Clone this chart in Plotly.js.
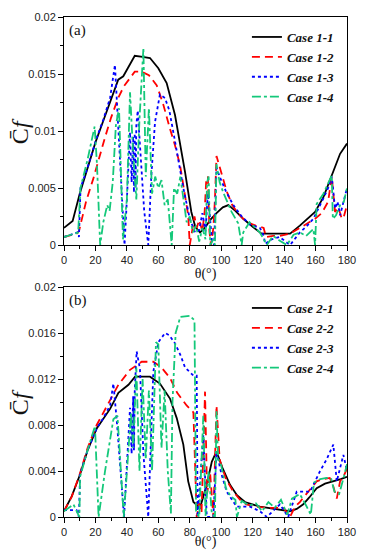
<!DOCTYPE html>
<html>
<head>
<meta charset="utf-8">
<script src="https://cdn.plot.ly/plotly-3.0.1.min.js"></script>
<style>html,body{margin:0;padding:0;background:#fff;}#chart{width:368px;height:550px;}</style>
</head>
<body>
<div id="chart"></div>
<script>
// ---- Panel (a) ----
var th11 = [0, 5.5, 10, 15, 20, 25, 30, 34.5, 37.7, 41, 45, 50, 54.7, 60, 65.3, 70.6, 74, 77, 81, 83.5, 86.5, 89.6, 93, 97, 101, 104.5, 109, 114, 120, 125.7, 135, 143.8, 150, 155, 159.7, 165, 170.3, 175.6, 180];
var cf11 = [0.0015, 0.0021, 0.0045, 0.0068, 0.009, 0.0109, 0.0128, 0.0145, 0.0148, 0.0156, 0.0166, 0.0165, 0.0164, 0.0155, 0.0142, 0.0114, 0.0088, 0.0064, 0.0029, 0.0016, 0.0011, 0.0015, 0.0022, 0.0028, 0.0033, 0.0035, 0.003, 0.0023, 0.0016, 0.001, 0.001, 0.001, 0.0017, 0.0023, 0.0029, 0.0042, 0.0061, 0.008, 0.0089];

var th12 = [0, 5, 8, 9.5, 10.5, 14, 18.6, 22, 26, 30, 34.5, 38, 42, 45, 49.4, 54, 59, 63, 67.4, 70.5, 73.8, 76.5, 79, 80, 81.5, 83, 84.4, 86, 88, 89.5, 90.5, 91.5, 92.5, 93.5, 95, 96, 97, 100, 103.5, 107, 110, 114, 118.3, 122, 125.7, 127, 128.5, 133, 137, 143.8, 150, 155, 159.7, 164, 168, 170.3, 172.4, 174.5, 176.7, 178, 180];
var cf12 = [0.0007, 0.0009, 0.001, 0.0012, 0.0018, 0.0038, 0.0058, 0.0075, 0.0094, 0.0112, 0.0129, 0.0139, 0.0146, 0.0152, 0.0152, 0.0149, 0.014, 0.0124, 0.0102, 0.0088, 0.007, 0.0048, 0.0026, 0.0, 0.0012, 0.0025, 0.0015, 0.0022, 0.0012, 0.003, 0.0058, 0.006, 0.0012, 0.0, 0.0015, 0.004, 0.0078, 0.0063, 0.0047, 0.0035, 0.0029, 0.0023, 0.0019, 0.0017, 0.0016, 0.0015, 0.0007, 0.0008, 0.0008, 0.001, 0.0015, 0.0019, 0.0023, 0.0028, 0.0038, 0.006, 0.0029, 0.0033, 0.0023, 0.0025, 0.0035];

var th13 = [0, 5, 8.5, 9.5, 10.5, 15, 20.8, 25, 29.3, 32.4, 37.5, 38.5, 40, 42, 43, 44, 44.5, 45, 45.5, 46, 46.9, 48, 49.4, 51, 53.6, 55.5, 57.9, 61, 64.2, 67, 70.6, 73, 75.9, 80, 83.4, 86, 88, 90, 91.5, 92.5, 94, 95.5, 97, 99, 103, 107.7, 113, 118.3, 124.6, 127, 128, 132, 137, 140, 143.8, 150, 154, 158.6, 162, 165, 168, 170.3, 172.4, 174, 175.6, 178, 180];
var cf13 = [0.0007, 0.0009, 0.0011, 0.0007, 0.005, 0.0068, 0.0094, 0.011, 0.0129, 0.0158, 0.0023, 0.0, 0.004, 0.0099, 0.0055, 0.0095, 0.0046, 0.0098, 0.005, 0.0105, 0.0118, 0.0095, 0.006, 0.003, 0.0, 0.006, 0.0108, 0.0132, 0.0129, 0.0118, 0.0091, 0.0072, 0.005, 0.0023, 0.0011, 0.0013, 0.0028, 0.0012, 0.0045, 0.003, 0.0005, 0.0, 0.0068, 0.006, 0.0047, 0.0035, 0.0025, 0.0018, 0.0015, 0.0008, 0.0001, 0.0005, 0.0007, 0.0004, 0.0, 0.0011, 0.0016, 0.0023, 0.0032, 0.0041, 0.005, 0.006, 0.0032, 0.0038, 0.0026, 0.004, 0.005];

var th14 = [0, 5, 9, 10.5, 15, 19.5, 21, 23, 25, 27.5, 29, 31, 33, 35, 37.5, 40, 42, 44, 46, 48, 50.5, 52, 54, 56, 58, 60, 62, 64, 66, 68.5, 70, 72, 74, 76, 78, 80, 82, 84, 86, 88, 90, 91, 92, 93, 95, 96, 97, 99, 101.3, 106.6, 110.8, 113, 114, 118, 124.6, 129, 133, 137, 141.7, 146, 150, 154, 158.6, 159.7, 160.7, 165, 170.3, 171, 173, 175.6, 178, 180];
var cf14 = [0.0007, 0.0009, 0.0011, 0.005, 0.0075, 0.0104, 0.007, 0.0, 0.002, 0.0035, 0.003, 0.0055, 0.0105, 0.012, 0.0005, 0.004, 0.0134, 0.008, 0.004, 0.011, 0.0173, 0.006, 0.012, 0.0045, 0.006, 0.005, 0.0057, 0.0035, 0.004, 0.0, 0.005, 0.0045, 0.006, 0.004, 0.002, 0.0025, 0.0011, 0.0017, 0.0003, 0.0015, 0.0005, 0.0055, 0.006, 0.0, 0.0005, 0.0, 0.0071, 0.0055, 0.0046, 0.0029, 0.0019, 0.0, 0.0011, 0.002, 0.0011, 0.0, 0.0008, 0.0004, 0.0, 0.0009, 0.0011, 0.0008, 0.0014, 0.0, 0.0036, 0.0045, 0.0061, 0.0023, 0.0026, 0.0035, 0.0038, 0.005];

// ---- Panel (b) ----
var th21 = [0, 4.9, 10.2, 15, 20.8, 25, 29.3, 34.6, 41, 45.2, 50, 54.7, 61, 67.4, 71.7, 75.9, 79, 82.3, 86.5, 88, 90.8, 94, 97, 101, 105.6, 110, 115.1, 124.6, 135, 143.7, 148, 152.2, 156, 160.7, 166, 171.3, 176, 180];
var cf21 = [0.0005, 0.0018, 0.0037, 0.0058, 0.0077, 0.0086, 0.0094, 0.0108, 0.0115, 0.0122, 0.0122, 0.0122, 0.0116, 0.0103, 0.0086, 0.0063, 0.0031, 0.0013, 0.0008, 0.0015, 0.0028, 0.0048, 0.0057, 0.0042, 0.0028, 0.0019, 0.0013, 0.0009, 0.0007, 0.0005, 0.0007, 0.0011, 0.0017, 0.0025, 0.0029, 0.0031, 0.0033, 0.0035];

var th22 = [0, 5, 10.2, 15, 20.8, 25, 29.3, 34.6, 42, 49.4, 56.8, 62, 67.4, 72, 78, 82.3, 83.5, 84.4, 86, 87.5, 89.7, 91, 92.9, 95, 97, 99, 103, 107.7, 112, 116, 122, 129, 135, 139.6, 143.7, 147, 150, 155, 160.7, 165, 169, 171, 173.5, 175.6, 178, 180];
var cf22 = [0.0005, 0.0018, 0.0038, 0.006, 0.008, 0.0091, 0.0102, 0.0115, 0.0128, 0.0135, 0.0135, 0.013, 0.0121, 0.0108, 0.0097, 0.0091, 0.004, 0.0, 0.0012, 0.0004, 0.0109, 0.002, 0.0039, 0.0, 0.0097, 0.005, 0.0033, 0.0022, 0.0015, 0.0011, 0.0009, 0.0008, 0.0008, 0.0008, 0.0, 0.0009, 0.0013, 0.0021, 0.0031, 0.0033, 0.0034, 0.0028, 0.0016, 0.0031, 0.0036, 0.0042];

var th23 = [0, 5, 8, 9.5, 10.2, 15, 20.8, 25, 29.3, 31.4, 33.5, 38.2, 40, 42, 43, 44, 44.5, 45, 46.2, 48.3, 50.5, 53.6, 56.8, 60, 64.3, 67, 70.6, 74, 77, 82.3, 84.4, 85, 88.6, 90.8, 95, 97, 100, 103.5, 109.8, 118.3, 124.6, 129, 137.3, 142.6, 148, 156.5, 162.9, 167, 171.3, 173.5, 177.7, 180];
var cf23 = [0.0006, 0.0006, 0.0006, 0.0, 0.0037, 0.0058, 0.0077, 0.0086, 0.0097, 0.0116, 0.0085, 0.0, 0.004, 0.0095, 0.0055, 0.0105, 0.0058, 0.011, 0.0144, 0.0129, 0.0055, 0.0, 0.0126, 0.0152, 0.016, 0.0158, 0.0151, 0.0141, 0.013, 0.0123, 0.0123, 0.0, 0.0071, 0.0, 0.0, 0.0057, 0.0038, 0.0022, 0.0009, 0.0009, 0.0005, 0.0, 0.0011, 0.0, 0.0022, 0.0022, 0.004, 0.005, 0.0063, 0.0031, 0.0054, 0.004];

var th24 = [0, 6, 9.8, 10.2, 15, 19.7, 22, 26, 31.4, 34, 38, 42.6, 44, 46, 48, 50, 52, 54, 56, 58.5, 60, 62, 64, 66, 68, 69, 71, 74, 80, 83, 84, 86, 88.6, 90, 92, 94, 96, 97, 98, 100, 103, 106, 109, 110, 113, 118, 122, 126, 130, 134, 138, 142, 145, 150, 154, 157, 159, 163, 167, 170, 172, 175, 178, 180];
var cf24 = [0.0005, 0.0011, 0.0, 0.0035, 0.0058, 0.0079, 0.0, 0.0039, 0.0085, 0.0088, 0.0, 0.009, 0.006, 0.013, 0.004, 0.012, 0.005, 0.011, 0.004, 0.0152, 0.015, 0.006, 0.011, 0.004, 0.0003, 0.01, 0.016, 0.0174, 0.0175, 0.0171, 0.0005, 0.0, 0.0088, 0.0001, 0.004, 0.0003, 0.0, 0.0092, 0.005, 0.0045, 0.0025, 0.0018, 0.0015, 0.0, 0.0014, 0.001, 0.0012, 0.0005, 0.0013, 0.0008, 0.0015, 0.0002, 0.0016, 0.002, 0.001, 0.0002, 0.003, 0.0033, 0.0034, 0.0033, 0.0022, 0.002, 0.0035, 0.0046];

var namesA = ['Case 1-1', 'Case 1-2', 'Case 1-3', 'Case 1-4'];
var namesB = ['Case 2-1', 'Case 2-2', 'Case 2-3', 'Case 2-4'];
var xTicks = [0, 20, 40, 60, 80, 100, 120, 140, 160, 180];
var yTicksA = [0, 0.005, 0.01, 0.015, 0.02];
var yTextA = ['0', '0.005', '0.01', '0.015', '0.02'];
var yTicksB = [0, 0.004, 0.008, 0.012, 0.016, 0.02];
var yTextB = ['0', '0.004', '0.008', '0.012', '0.016', '0.02'];
var yTitle = 'C\u0304<i>f</i>';
var xTitle = '\u03B8(\u00B0)';

var styles = [
  {color: '#000000', dash: 'solid', width: 1.8},
  {color: '#ff0000', dash: '8px,5px', width: 1.8},
  {color: '#0000ff', dash: 'dot', width: 1.8},
  {color: '#14c87a', dash: 'dashdot', width: 1.8}
];

function tr(x, y, name, s, xa, ya, lg) {
  return {x: x, y: y, name: name, type: 'scatter', mode: 'lines',
    xaxis: xa, yaxis: ya, legend: lg,
    line: {color: s.color, dash: s.dash, width: s.width}};
}

var data = [
  tr(th11, cf11, namesA[0], styles[0], 'x', 'y', 'legend'),
  tr(th12, cf12, namesA[1], styles[1], 'x', 'y', 'legend'),
  tr(th13, cf13, namesA[2], styles[2], 'x', 'y', 'legend'),
  tr(th14, cf14, namesA[3], styles[3], 'x', 'y', 'legend'),
  tr(th21, cf21, namesB[0], styles[0], 'x2', 'y2', 'legend2'),
  tr(th22, cf22, namesB[1], styles[1], 'x2', 'y2', 'legend2'),
  tr(th23, cf23, namesB[2], styles[2], 'x2', 'y2', 'legend2'),
  tr(th24, cf24, namesB[3], styles[3], 'x2', 'y2', 'legend2')
];

var tickFont = {family: 'Liberation Sans', size: 11, color: '#222'};
var serif = 'Liberation Serif';

function xax(anchor) {
  return {anchor: anchor, range: [0, 180], tickvals: xTicks, ticktext: xTicks.map(String),
    showline: true, mirror: true, linecolor: '#000', linewidth: 1,
    ticks: 'outside', ticklen: 5, tickwidth: 1, tickcolor: '#000',
    minor: {ticks: 'outside', ticklen: 3, dtick: 10, tickcolor: '#000'},
    showgrid: false, zeroline: false, tickfont: tickFont,
    title: {text: xTitle, font: {family: serif, size: 14, color: '#111'}, standoff: 0}};
}
function yax(anchor, dom, tv, tt, minorD) {
  return {anchor: anchor, domain: dom, range: [0, 0.02], tickvals: tv, ticktext: tt,
    showline: true, mirror: true, linecolor: '#000', linewidth: 1,
    ticks: 'outside', ticklen: 5, tickwidth: 1, tickcolor: '#000',
    minor: {ticks: 'outside', ticklen: 3, dtick: minorD, tickcolor: '#000'},
    showgrid: false, zeroline: false, tickfont: tickFont};
}

var legFont = {family: serif, size: 13, color: '#111', style: 'italic', weight: 'bold'};
var yTitleFont = {family: serif, size: 24, color: '#111'};

var layout = {
  width: 368, height: 550,
  margin: {l: 64, r: 21, t: 17, b: 33},
  paper_bgcolor: '#fff', plot_bgcolor: '#fff',
  showlegend: true,
  xaxis: xax('y'),
  yaxis: yax('x', [0.544, 1], yTicksA, yTextA, 0.0025),
  xaxis2: xax('y2'),
  yaxis2: yax('x2', [0, 0.46], yTicksB, yTextB, 0.002),
  legend: {x: 0.975, y: 0.99, xanchor: 'right', yanchor: 'top', bgcolor: 'rgba(0,0,0,0)',
    borderwidth: 0, font: legFont, tracegroupgap: 0},
  legend2: {x: 0.975, y: 0.448, xanchor: 'right', yanchor: 'top', bgcolor: 'rgba(0,0,0,0)',
    borderwidth: 0, font: legFont, tracegroupgap: 0},
  annotations: [
    {text: '(a)', xref: 'x domain', yref: 'y domain', x: 0.01, y: 0.985, xanchor: 'left', yanchor: 'top',
      showarrow: false, font: {family: serif, size: 15, color: '#111'}},
    {text: '(b)', xref: 'x2 domain', yref: 'y2 domain', x: 0.01, y: 0.985, xanchor: 'left', yanchor: 'top',
      showarrow: false, font: {family: serif, size: 15, color: '#111'}},
    {text: yTitle, xref: 'x domain', yref: 'y domain', x: -0.155, y: 0.5, xanchor: 'center', yanchor: 'middle',
      textangle: -90, showarrow: false, font: yTitleFont},
    {text: yTitle, xref: 'x2 domain', yref: 'y2 domain', x: -0.155, y: 0.5, xanchor: 'center', yanchor: 'middle',
      textangle: -90, showarrow: false, font: yTitleFont}
  ]
};

Plotly.newPlot('chart', data, layout, {staticPlot: true, displayModeBar: false});
</script>
</body>
</html>
